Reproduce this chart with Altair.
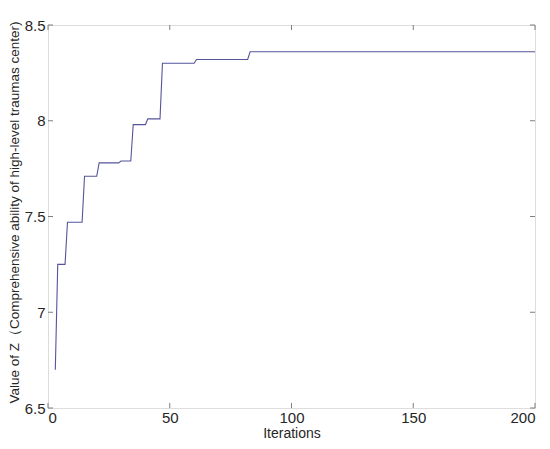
import altair as alt
import pandas as pd

# Data
start_iter = 3
start_value = 6.70
change_iters = [4, 8, 15, 21, 30, 35, 41, 47, 61, 83]
change_values = [7.25, 7.47, 7.71, 7.78, 7.79, 7.98, 8.01, 8.30, 8.32, 8.36]
last_iter = 200

x_ticks = [0, 50, 100, 150, 200]
y_ticks = [6.5, 7, 7.5, 8, 8.5]

# build per-iteration polyline (value held until next change)
rows = [(start_iter, start_value)]
prev = start_value
for k, v in zip(change_iters, change_values):
    rows.append((k - 1, prev))
    rows.append((k, v))
    prev = v
rows.append((last_iter, prev))
df = pd.DataFrame(rows, columns=["iter", "z"])

W, H = 487, 383
FONT = "Liberation Sans"
TXT = "#262626"
AX = "#7f7f7f"

xs = alt.Scale(domain=[0, 200], nice=False)
ys = alt.Scale(domain=[6.5, 8.5], nice=False, zero=False)

line = alt.Chart(df).mark_line(color="#54549c", strokeWidth=1.1).encode(
    x=alt.X("iter:Q", scale=xs,
            axis=alt.Axis(values=x_ticks, title="Iterations", grid=False, domain=False,
                          ticks=False, format="d", labelFont=FONT, labelFontSize=15,
                          labelColor=TXT, labelPadding=2, titleFont=FONT, titleFontSize=14,
                          titleFontWeight="normal", titleColor=TXT, titlePadding=1)),
    y=alt.Y("z:Q", scale=ys,
            axis=alt.Axis(values=y_ticks, title="Value of Z（Comprehensive ability of high-level traumas  center)",
                          grid=False, domain=False, ticks=False, format="~g", labelFont=FONT,
                          labelFontSize=15, labelColor=TXT, labelPadding=3,
                          titleFont=FONT, titleFontSize=13.5, titleFontWeight="normal",
                          titleColor=TXT, titlePadding=3, titleY=187)),
)

xt = pd.DataFrame({"t": x_ticks})
yt = pd.DataFrame({"t": y_ticks})

xb = alt.Chart(xt).mark_rule(color=AX, strokeWidth=1).encode(
    x=alt.X("t:Q", scale=xs), y=alt.value(H), y2=alt.value(H - 5))
xtop = alt.Chart(xt).mark_rule(color=AX, strokeWidth=1).encode(
    x=alt.X("t:Q", scale=xs), y=alt.value(0), y2=alt.value(5))
yl = alt.Chart(yt).mark_rule(color=AX, strokeWidth=1).encode(
    y=alt.Y("t:Q", scale=ys), x=alt.value(0), x2=alt.value(5))
yr = alt.Chart(yt).mark_rule(color=AX, strokeWidth=1).encode(
    y=alt.Y("t:Q", scale=ys), x=alt.value(W), x2=alt.value(W - 5))

chart = alt.layer(line, xb, xtop, yl, yr).properties(
    width=W, height=H,
    autosize=alt.AutoSizeParams(type="none"),
    padding={"left": 40, "top": 17, "right": 7, "bottom": 41},
).configure_view(stroke=AX, strokeWidth=1.2).configure(background="white")

chart.save("out.html", embed_options={"renderer": "svg", "actions": False})
